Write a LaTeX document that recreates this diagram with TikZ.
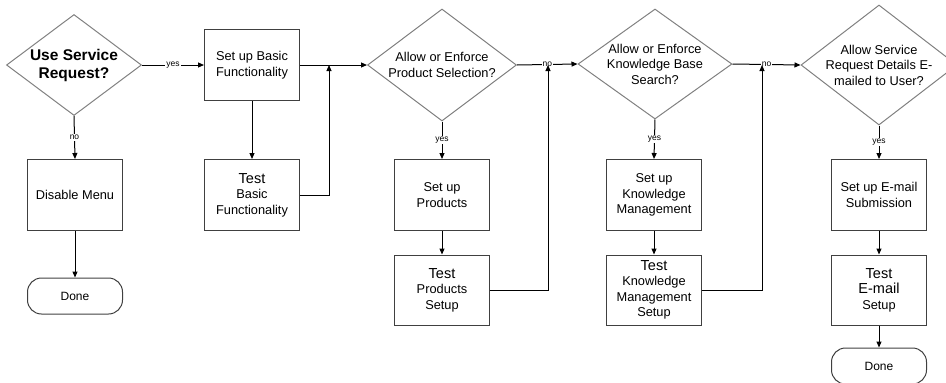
\documentclass[tikz,border=0pt]{standalone}
\usepackage{fontspec}
\setmainfont{Liberation Sans}
\usetikzlibrary{arrows.meta,shapes.geometric}

\newcommand{\bigline}[1]{{\fontsize{14.5}{16}\selectfont #1}}

\begin{document}
\begin{tikzpicture}[x=1pt, y=-1pt,
  box/.style={draw=black!75, line width=1pt, minimum width=95pt, minimum height=71pt,
    inner sep=0pt, align=center, font=\fontsize{12.8}{15.5}\selectfont},
  decision/.style={diamond, draw=black!50, line width=1pt, inner sep=0pt},
  dtext/.style={align=center, font=\fontsize{12.8}{15.5}\selectfont},
  term/.style={draw=black!75, line width=1pt, rounded corners=14pt, minimum width=95pt,
    minimum height=36pt, font=\fontsize{12}{14}\selectfont},
  flow/.style={line width=1pt, -{Triangle[length=6pt,width=5pt]}},
  lbl/.style={fill=white, inner sep=1pt, font=\fontsize{8.5}{10}\selectfont}]
\useasboundingbox (0,0) rectangle (946,383);

% first column: service request
\node[decision, minimum width=135pt, minimum height=101pt,
  label={[dtext, font=\fontsize{15.5}{18}\selectfont\bfseries]center:{Use Service\\Request?}}] (d1) at (74,65) {};
\node[box] (dm) at (75,195) {Disable Menu};
\node[term] (dn1) at (75,296) {Done};

% basic functionality
\node[box] (b1) at (252,65) {Set up Basic\\Functionality};
\node[box] (t1) at (252,195) {\bigline{Test}\\Basic\\Functionality};
\coordinate (j1) at (329,65);

% products
\node[decision, minimum width=149pt, minimum height=112pt,
  label={[dtext]center:{Allow or Enforce\\Product Selection?}}] (d2) at (442,65) {};
\node[box] (sp) at (442,195) {Set up\\Products};
\node[box, minimum height=70pt] (tp) at (442,290) {\bigline{Test}\\Products\\Setup};
\coordinate (j2) at (548,65);

% knowledge base
\node[decision, minimum width=154pt, minimum height=110pt,
  label={[dtext]center:{Allow or Enforce\\Knowledge Base\\Search?}}] (d3) at (655,64) {};
\node[box] (sk) at (654,195) {Set up\\Knowledge\\Management};
\node[box, minimum height=70pt] (tk) at (654,290) {\bigline{Test}\\Knowledge\\Management\\Setup};
\coordinate (j3) at (762,65);

% e-mail
\node[decision, minimum width=156pt, minimum height=120pt,
  label={[dtext]center:{Allow Service\\Request Details E-\\mailed to User?}}] (d4) at (879,65) {};
\node[box] (se) at (879,195) {Set up E-mail\\Submission};
\node[box, minimum height=70pt] (te) at (879,290) {\bigline{Test}\\\bigline{E-mail}\\Setup};
\node[term] (dn2) at (879,366) {Done};

% connectors
\draw[flow] (d1.east) -- (b1.west) node[lbl, midway] {yes};
\draw[flow] (d1.south) -- (dm.north) node[lbl, midway] {no};
\draw[flow] (dm.south) -- (dn1.north);
\draw[flow] (b1.south) -- (t1.north);
\draw[flow] (b1.east) -- (d2.west);
\draw[flow] (t1.east) -| (j1);

\draw[flow] (d2.east) -- (d3.west) node[lbl, midway] {no};
\draw[flow] (d2.south) -- (sp.north) node[lbl, midway] {yes};
\draw[flow] (sp.south) -- (tp.north);
\draw[flow] (tp.east) -| (j2);

\draw[flow] (d3.east) -- (d4.west) node[lbl, midway] {no};
\draw[flow] (d3.south) -- (sk.north) node[lbl, midway] {yes};
\draw[flow] (sk.south) -- (tk.north);
\draw[flow] (tk.east) -| (j3);

\draw[flow] (d4.south) -- (se.north) node[lbl, midway] {yes};
\draw[flow] (se.south) -- (te.north);
\draw[flow] (te.south) -- (dn2.north);
\end{tikzpicture}
\end{document}
